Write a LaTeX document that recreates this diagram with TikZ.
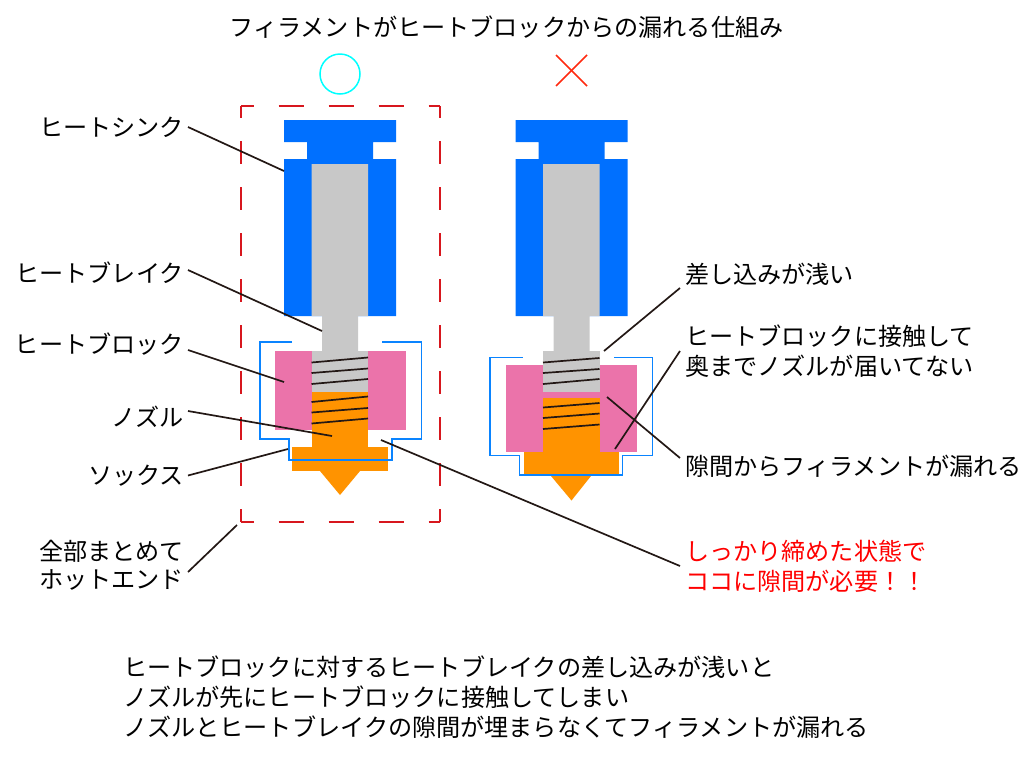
\documentclass[tikz,border=0pt]{standalone}
\usepackage{fontspec}
\setmainfont{Noto Sans CJK JP}
\definecolor{sinkblue}{HTML}{0070FF}
\definecolor{sockblue}{HTML}{0A84FF}
\definecolor{breakgray}{HTML}{C8C8C8}
\definecolor{blockpink}{HTML}{EB73AA}
\definecolor{nozzleorange}{HTML}{FF9300}
\definecolor{leaderdark}{HTML}{231815}
\definecolor{boxred}{HTML}{D7171E}
\definecolor{goodcyan}{HTML}{00FFFF}
\definecolor{badred}{HTML}{FF2A10}
\definecolor{needred}{HTML}{FF0000}
\tikzset{
  label/.style={font=\fontsize{24.13}{30}\selectfont,inner ysep=0pt,inner xsep=5pt,align=left},
  sidelabel/.style={label,anchor=east,inner xsep=4pt},
  leader/.style={draw=leaderdark,line width=1.7pt},
  thread/.style={draw=leaderdark,line width=1.7pt},
  sock/.style={draw=sockblue,line width=1.7pt},
  crossline/.style={draw=badred,line width=1.5pt},
}
\begin{document}
\begin{tikzpicture}[x=1pt,y=-1pt]
\useasboundingbox (0,0) rectangle (1026,756);

% heat sinks
\foreach \x in {0,231.5}
{
\fill[sinkblue] (284+\x,120) -- (396+\x,120) -- (396+\x,142) -- (373+\x,142) -- (373+\x,159) -- (396+\x,159) -- (396+\x,316) -- (284+\x,316) -- (284+\x,159) -- (307+\x,159) -- (307+\x,142) -- (284+\x,142) -- cycle;
\fill[breakgray] (311.5+\x,164) -- (368+\x,164) -- (368+\x,316) -- (358+\x,316) -- (358+\x,351) -- (368+\x,351) -- (368+\x,392) -- (311.5+\x,392) -- (311.5+\x,351) -- (322+\x,351) -- (322+\x,316) -- (311.5+\x,316) -- cycle;
}

% left hot end
\fill[blockpink] (275,351) rectangle (311.5,430);
\fill[blockpink] (368,351) rectangle (405.5,430);
\fill[nozzleorange] (311.5,392) rectangle (368,447);
\fill[nozzleorange] (292,447) rectangle (388,471);
\fill[nozzleorange] (320,471) -- (360,471) -- (340,495) -- cycle;
\foreach \y/\z in {362.5/357.5,373/368.5,384/379,402/396.5,412.5/408,423.5/418.5}
\draw[thread] (311.5,\y) -- (368,\z);
\draw[sock] (292,342) -- (260,342) -- (260,439) -- (289,439) -- (289,460) -- (392,460) -- (392,439) -- (421.5,439) -- (421.5,342) -- (382,342);

% right hot end
\fill[blockpink] (505.5,364.5) rectangle (637,452);
\fill[breakgray] (543,351) rectangle (599.5,392);
\fill[nozzleorange] (543,398) rectangle (599.5,452);
\fill[nozzleorange] (523.5,452) rectangle (619,476);
\fill[nozzleorange] (551,476) -- (591,476) -- (571.5,500.5) -- cycle;
\foreach \y/\z in {362.5/358,373/369,384/379,407.5/403,418/413.5,429/424.5}
\draw[thread] (543,\y) -- (599.5,\z);
\draw[sock] (522.5,357.5) -- (490,357.5) -- (490,455.5) -- (519.5,455.5) -- (519.5,475) -- (622.5,475) -- (622.5,455.5) -- (652.5,455.5) -- (652.5,357.5) -- (613.5,357.5);

% marks
\foreach \y in {106,522}
\draw[boxred,line width=2pt,dash pattern=on 25pt off 25pt,dash phase=12.5pt] (241,\y) -- (440,\y);
\foreach \x in {241,440}
\draw[boxred,line width=2pt,dash pattern=on 23pt off 23pt,dash phase=11pt] (\x,106) -- (\x,522);
\node[draw=goodcyan,line width=1.5pt,circle,minimum size=40pt,inner sep=0pt] (good) at (340,74) {};
\coordinate (badA) at (556,55);
\coordinate (badB) at (587,86);
\coordinate (badC) at (587,55);
\coordinate (badD) at (556,86);
\draw[crossline] (badA) -- (badB);
\draw[crossline] (badC) -- (badD);

% texts
\node[label] (title) at (506.5,27) {フィラメントがヒートブロックからの漏れる仕組み};
\node[sidelabel] (sink) at (188,127) {ヒートシンク};
\node[sidelabel] (break) at (188,272.5) {ヒートブレイク};
\node[sidelabel] (block) at (188,344.5) {ヒートブロック};
\node[sidelabel] (nozzle) at (188,416.5) {ノズル};
\node[sidelabel] (socks) at (188,475.5) {ソックス};
\node[sidelabel,font=\fontsize{24.13}{28}\selectfont] (hotend) at (188,565) {全部まとめて\\ホットエンド};
\node[label,anchor=west] (shallow) at (680,274) {差し込みが浅い};
\node[label,anchor=west] (contact) at (680,351) {ヒートブロックに接触して\\奥までノズルが届いてない};
\node[label,anchor=west] (leak) at (680,466) {隙間からフィラメントが漏れる};
\node[label,anchor=west,text=needred] (need) at (680,566) {しっかり締めた状態で\\ココに隙間が必要！！};
\node[label,anchor=west] (note) at (118,697) {ヒートブロックに対するヒートブレイクの差し込みが浅いと\\ノズルが先にヒートブロックに接触してしまい\\ノズルとヒートブレイクの隙間が埋まらなくてフィラメントが漏れる};

% leader ends
\coordinate (sinkEnd) at (284,171);
\coordinate (breakEnd) at (322,331);
\coordinate (blockEnd) at (284,382);
\coordinate (nozzleEnd) at (332,436);
\coordinate (socksEnd) at (288,449);
\coordinate (hotendEnd) at (237,525);
\coordinate (shallowEnd) at (604,351);
\coordinate (contactEnd) at (615,449);
\coordinate (leakEnd) at (607,397);
\coordinate (needEnd) at (381,440);

\draw[leader] (sink.east) -- (sinkEnd);
\draw[leader] ([yshift=2.5pt]break.east) -- (breakEnd);
\draw[leader] ([yshift=-5.5pt]block.east) -- (blockEnd);
\draw[leader] ([yshift=5.5pt]nozzle.east) -- (nozzleEnd);
\draw[leader] (socks.east) -- (socksEnd);
\draw[leader] ([yshift=-7pt]hotend.east) -- (hotendEnd);
\draw[leader] ([yshift=-14pt]shallow.west) -- (shallowEnd);
\draw[leader] (contact.west) -- (contactEnd);
\draw[leader] ([yshift=8pt]leak.west) -- (leakEnd);
\draw[leader] (need.west) -- (needEnd);
\end{tikzpicture}
\end{document}
